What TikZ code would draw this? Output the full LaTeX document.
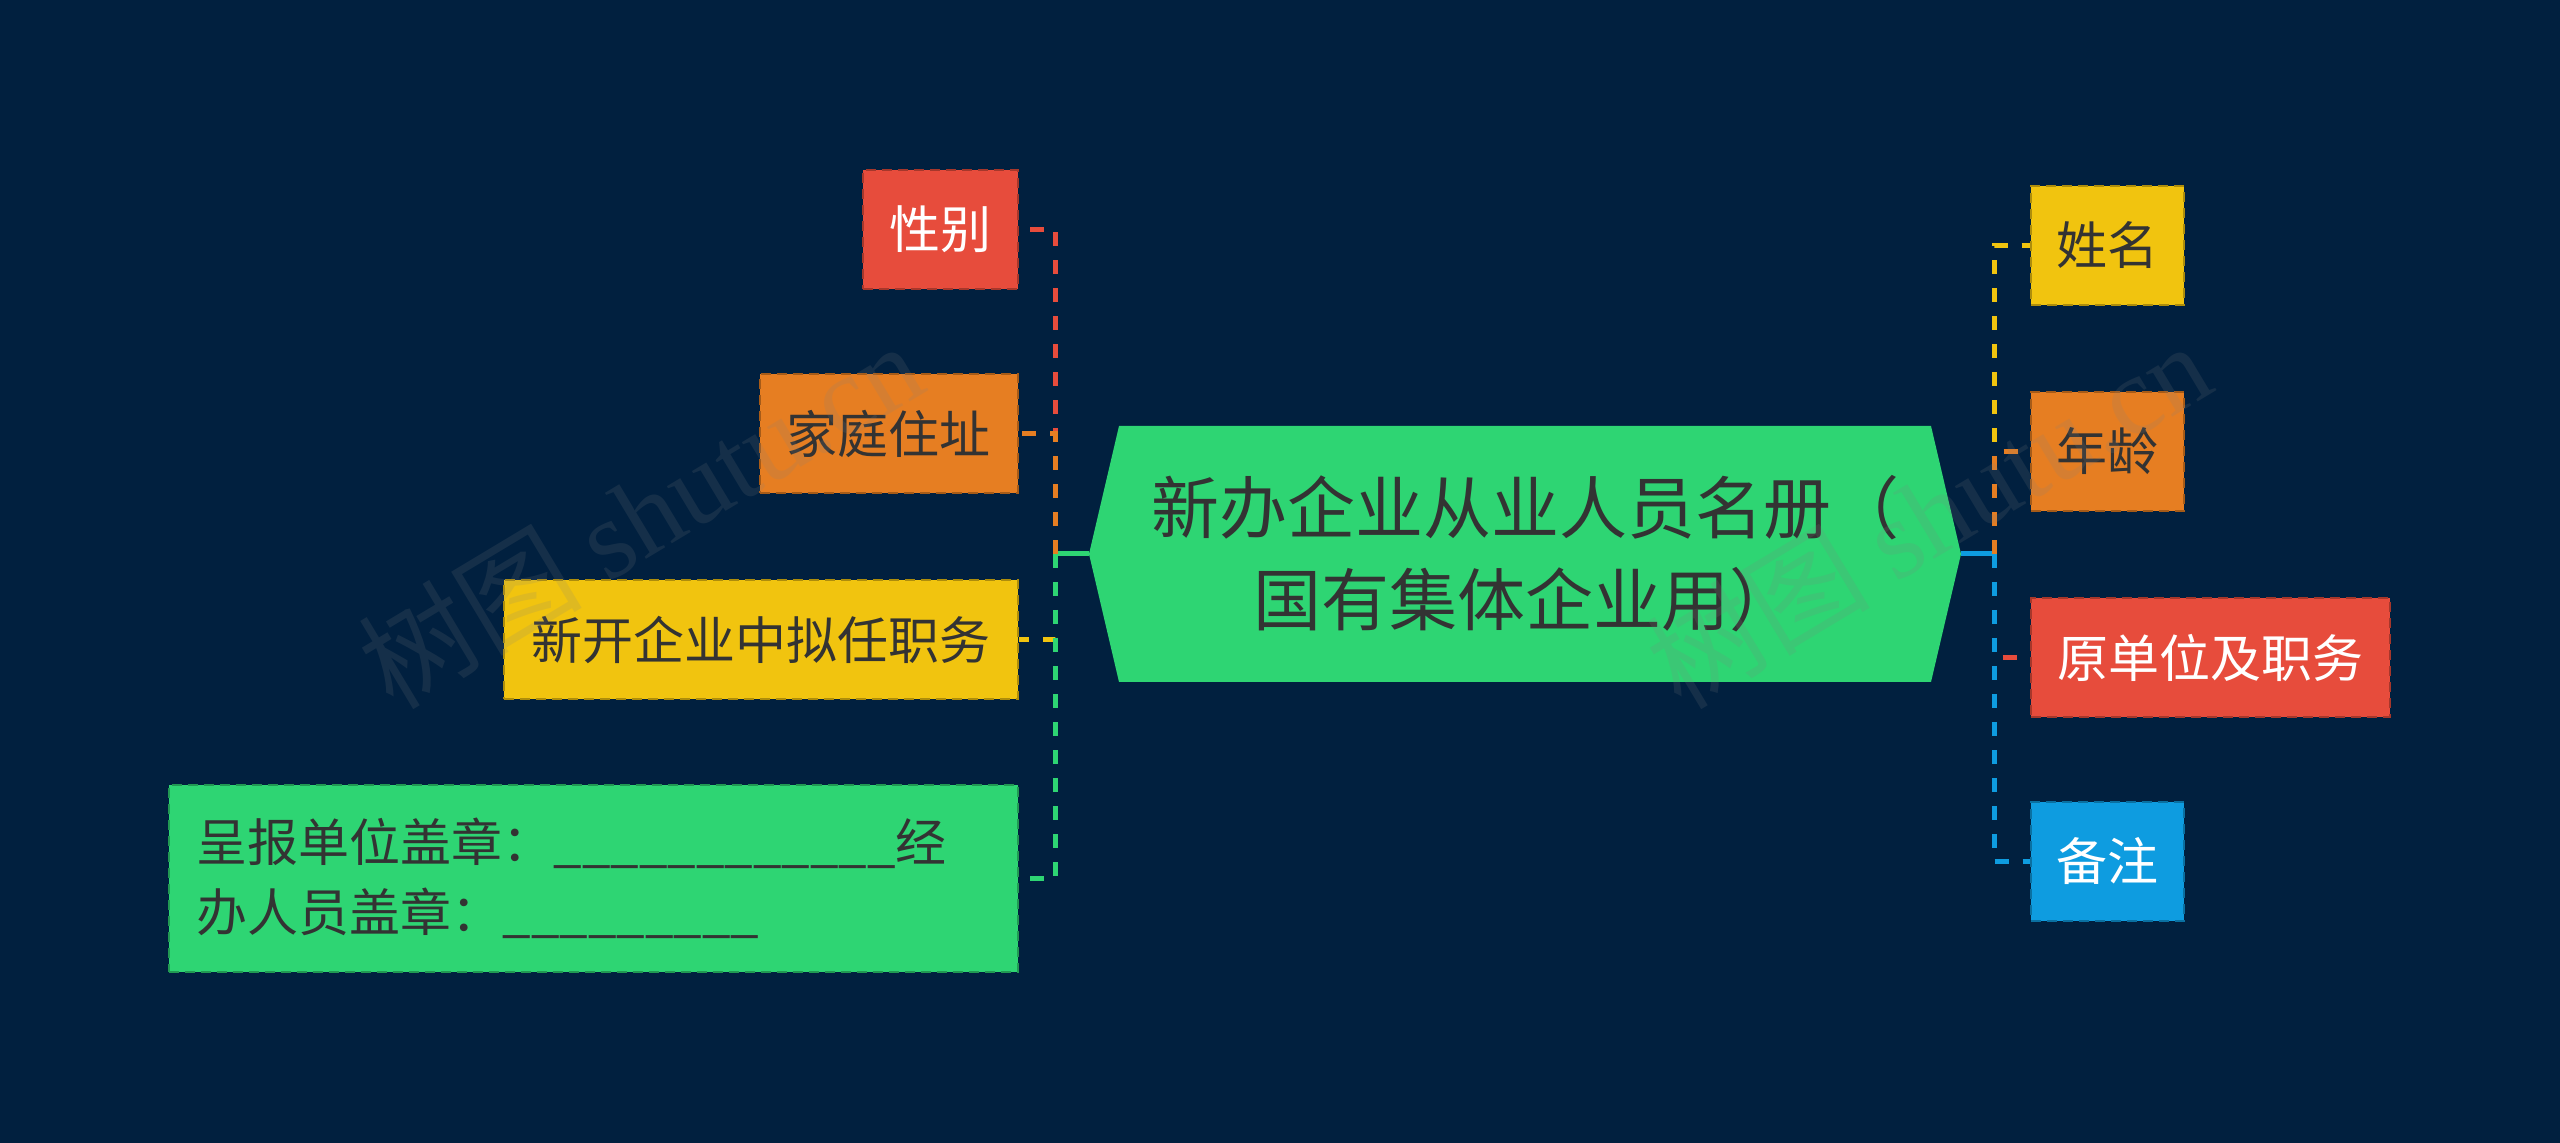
\documentclass[tikz,border=0pt]{standalone}
\usepackage{fontspec}
\setmainfont{Noto Sans CJK SC}
\newfontfamily\wmserif{Liberation Serif}
\definecolor{bg}{HTML}{01203F}
\definecolor{cgreen}{HTML}{2ED573}
\definecolor{cred}{HTML}{E74C3C}
\definecolor{corange}{HTML}{E67E22}
\definecolor{cyellow}{HTML}{F1C40F}
\definecolor{cblue}{HTML}{0E9CE0}
\definecolor{dtext}{HTML}{333333}
\begin{document}
\begin{tikzpicture}[x=0.25pt,y=-0.25pt,
  box/.style={draw=#1!72!black, fill=#1, dash pattern=on 2.5pt off 1.5pt, line width=0.6pt,
    minimum height=29.75pt, inner sep=0pt, font=\fontsize{12.75}{17.5}\selectfont},
  link/.style={dash pattern=on 3.5pt off 3.5pt, line width=1.25pt},
  solidlink/.style={line width=1.25pt},
  wmark/.style={rotate=31, text=gray, text opacity=0.16, font=\fontsize{28}{28}\selectfont}]
\fill[bg] (0,0) rectangle (2560,1143);
\useasboundingbox (0,0) rectangle (2560,1143);

% central hexagon
\coordinate (cl) at (1089,554);
\coordinate (cr) at (1961,554);
\fill[cgreen] (1119,426) -- (1931,426) -- (cr) -- (1931,682) -- (1119,682) -- (cl) -- cycle;
\node[align=center, text=dtext, font=\fontsize{17}{23}\selectfont] (ct) at (1525,554)
  {新办企业从业人员名册（\\国有集体企业用）};

% left children
\node[box=cred, text=white, minimum width=38.75pt, anchor=east] (xb) at (1019,229.5) {性别};
\node[box=corange, text=dtext, minimum width=64.5pt, anchor=east] (jt) at (1019,433.5) {家庭住址};
\node[box=cyellow, text=dtext, minimum width=128.5pt, anchor=east] (xk) at (1019,639.5) {新开企业中拟任职务};
\node[box=cgreen, text=dtext, text width=198.25pt, minimum height=46.75pt, inner xsep=7pt,
  align=left, anchor=east] (cb) at (1019,878.5)
  {呈报单位盖章：\_\_\_\_\_\_\_\_\_\_\_\_经\\办人员盖章：\_\_\_\_\_\_\_\_\_};

% right children
\node[box=cyellow, text=dtext, minimum width=38.25pt, anchor=west] (xm) at (2030,245.5) {姓名};
\node[box=corange, text=dtext, minimum width=38.25pt, anchor=west] (nl) at (2030,451.5) {年龄};
\node[box=cred, text=white, minimum width=89.75pt, anchor=west] (yd) at (2030,657.5) {原单位及职务};
\node[box=cblue, text=white, minimum width=38.25pt, anchor=west] (bz) at (2030,861.5) {备注};

% connectors left
\coordinate (tl) at (1055,554);
\draw[solidlink, cgreen] (cl) -- (tl);
\draw[link, cred] (tl) |- (xb.east);
\draw[link, corange] (tl) |- (jt.east);
\draw[link, cyellow] (tl) |- (xk.east);
\draw[link, cgreen] (tl) |- (cb.east);

% connectors right
\coordinate (tr) at (1994,554);
\draw[solidlink, cblue] (cr) -- (tr);
\draw[link, cyellow] (tr) |- (xm.west);
\draw[link, corange] (tr) |- (nl.west);
\draw[link, cred] (tr) |- (yd.west);
\draw[link, cblue] (tr) |- (bz.west);

% watermarks
\node[wmark] (wm1) at (640,514) {树图 {\wmserif shutu.cn}};
\node[wmark] (wm2) at (1928,514) {树图 {\wmserif shutu.cn}};
\end{tikzpicture}
\end{document}
